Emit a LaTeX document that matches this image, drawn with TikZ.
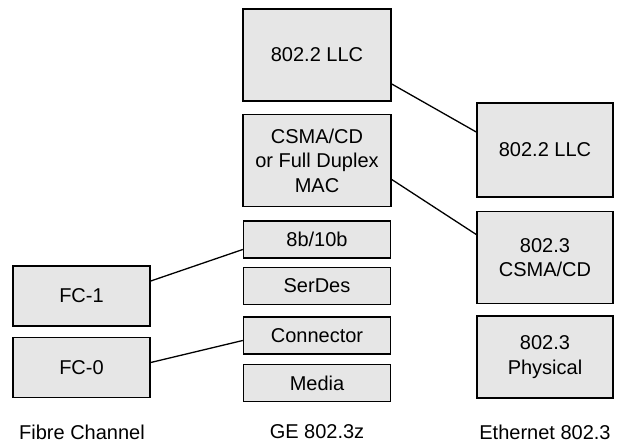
\documentclass[tikz,border=0pt]{standalone}
\usepackage{fontspec}
\setmainfont{Liberation Sans}
\usetikzlibrary{positioning}
\definecolor{layergray}{RGB}{230,230,230}

\begin{document}
\begin{tikzpicture}[x=1pt,y=-1pt,
    layer/.style={draw, fill=layergray, line width=1.5pt, align=center,
      inner sep=0pt, font=\fontsize{20}{24.5}\selectfont},
    slim/.style={layer, minimum width=147pt, minimum height=37pt},
    caption/.style={font=\fontsize{20}{24.5}\selectfont}]
  \useasboundingbox (0,0) rectangle (619,442);
  % Fibre Channel
  \node[layer, minimum width=137pt, minimum height=60pt] (FCone) at (81.5,296) {FC-1};
  \node[layer, minimum width=137pt, minimum height=60pt, below=10pt of FCone] (FCzero) {FC-0};
  % GE 802.3z
  \node[layer, minimum width=148pt, minimum height=92pt] (GELLC) at (317,55) {802.2 LLC};
  \node[layer, minimum width=148pt, minimum height=92pt, below=12pt of GELLC] (GEMAC) {CSMA/CD\\or Full Duplex\\MAC};
  \node[slim, below=13pt of GEMAC] (GEcode) {8b/10b};
  \node[slim, below=8pt of GEcode] (GEserdes) {SerDes};
  \node[slim, below=11pt of GEserdes] (GEconn) {Connector};
  \node[slim, below=9pt of GEconn] (GEmedia) {Media};
  % Ethernet 802.3
  \node[layer, minimum width=136pt, minimum height=94pt] (ETLLC) at (545,150) {802.2 LLC};
  \node[layer, minimum width=136pt, minimum height=92pt, below=13pt of ETLLC] (ETMAC) {802.3\\CSMA/CD};
  \node[layer, minimum width=136pt, minimum height=82pt, below=11pt of ETMAC] (ETPHY) {802.3\\Physical};
  % captions
  \node[caption] (FCcap) at (82,432) {Fibre Channel};
  \node[caption] (GEcap) at (317,432) {GE 802.3z};
  \node[caption] (ETcap) at (545,432) {Ethernet 802.3};
  % mappings
  \draw[line width=1.3pt] ([yshift=-29pt]GELLC.east) -- ([yshift=18pt]ETLLC.west);
  \draw[line width=1.3pt] ([yshift=-19pt]GEMAC.east) -- ([yshift=23pt]ETMAC.west);
  \draw[line width=1.3pt] ([yshift=15pt]FCone.east) -- ([yshift=-10pt]GEcode.west);
  \draw[line width=1.3pt] ([yshift=5pt]FCzero.east) -- ([yshift=-5pt]GEconn.west);
\end{tikzpicture}
\end{document}
